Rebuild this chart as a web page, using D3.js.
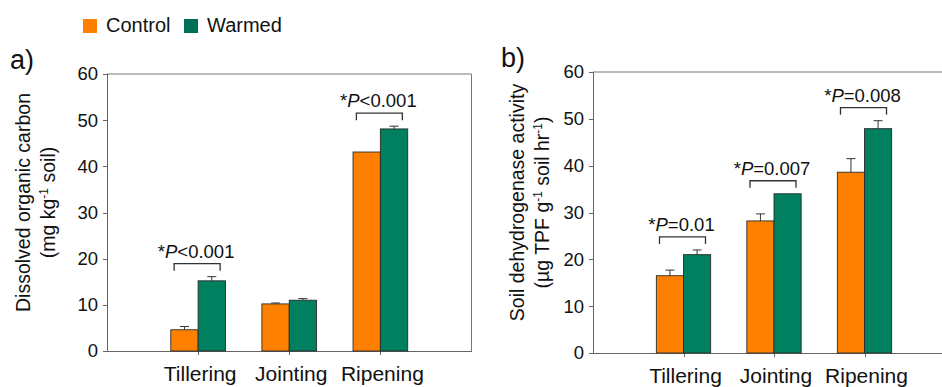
<!DOCTYPE html>
<html lang="en">
<head>
<meta charset="utf-8">
<script src="https://d3js.org/d3.v7.min.js"></script>
<style>
  body { margin: 0; background: #fff; }
  svg { display: block; font-family: "Liberation Sans", Arial, sans-serif; }
  .axis path, .axis line { stroke: #666; shape-rendering: crispEdges; }
  .axis text { font-size: 18.5px; fill: #111; }
</style>
</head>
<body>
<script>
// growth stages on the x axis
var stages = ["Tillering", "Jointing", "Ripening"];
var yTicks = [0, 10, 20, 30, 40, 50, 60];

// a) dissolved organic carbon (mg kg-1 soil)
var docControl = [4.6, 10.2, 43.1];
var docControlErr = [0.7, 0.2, 0.0];
var docWarmed = [15.2, 11.0, 48.1];
var docWarmedErr = [0.9, 0.35, 0.6];
var docSig = ["<0.001", null, "<0.001"];

// b) soil dehydrogenase activity (ug TPF g-1 soil hr-1)
var dhaControl = [16.5, 28.2, 38.6];
var dhaControlErr = [1.2, 1.5, 2.9];
var dhaWarmed = [21.0, 34.0, 47.9];
var dhaWarmedErr = [1.0, 0.0, 1.7];
var dhaSig = ["=0.01", "=0.007", "=0.008"];

var orange = "#ff8000", green = "#00805f";

var svg = d3.select("body").append("svg")
    .attr("width", 942)
    .attr("height", 387);

// legend
var legend = [["Control", orange, 83], ["Warmed", "#006f58", 184]];
legend.forEach(function(l) {
  svg.append("rect").attr("x", l[2]).attr("y", 19).attr("width", 14).attr("height", 14).attr("fill", l[1]);
  svg.append("text").attr("x", l[2] + 23).attr("y", 32).attr("font-size", 20).attr("fill", "#111").text(l[0]);
});

function drawPanel(opt) {
  var g = svg.append("g").attr("transform", "translate(" + opt.left + "," + opt.top + ")");
  var w = opt.width, h = opt.height;

  var x = d3.scaleLinear().domain([0, 4]).range([0, w]);
  var y = d3.scaleLinear().domain([0, 60]).range([h, 0]);
  var bw = x(0.3) - x(0);

  // frame
  g.append("line").attr("x1", 0).attr("x2", w).attr("y1", 0).attr("y2", 0).attr("stroke", "#777");
  g.append("line").attr("x1", w).attr("x2", w).attr("y1", 0).attr("y2", h).attr("stroke", "#777");

  g.append("g").attr("class", "axis")
      .call(d3.axisLeft(y).tickValues(yTicks).tickSize(4).tickPadding(5).tickFormat(d3.format("d")));

  g.append("g").attr("class", "axis")
      .attr("transform", "translate(0," + h + ")")
      .call(d3.axisBottom(x).tickValues([1, 2, 3]).tickSize(4).tickSizeOuter(0).tickFormat(function(d) { return ""; }));

  stages.forEach(function(s, i) {
    var cx = x(i + 1);
    var series = [[opt.control[i], opt.controlErr[i], orange, cx - bw], [opt.warmed[i], opt.warmedErr[i], green, cx]];
    series.forEach(function(d) {
      g.append("rect")
          .attr("x", d[3]).attr("y", y(d[0]))
          .attr("width", bw).attr("height", h - y(d[0]))
          .attr("fill", d[2]).attr("stroke", "#2a2a2a").attr("stroke-width", 0.9);
      if (d[1] > 0) {
        var ex = d[3] + bw / 2;
        g.append("line").attr("x1", ex).attr("x2", ex).attr("y1", y(d[0])).attr("y2", y(d[0] + d[1])).attr("stroke", "#333");
        g.append("line").attr("x1", ex - 4.5).attr("x2", ex + 4.5).attr("y1", y(d[0] + d[1])).attr("y2", y(d[0] + d[1])).attr("stroke", "#333");
      }
    });

    g.append("text")
        .attr("x", cx + 2).attr("y", h + 30)
        .attr("text-anchor", "middle").attr("font-size", 21).attr("fill", "#111")
        .text(s);

    if (opt.sig[i]) {
      var top = Math.min(y(opt.control[i] + opt.controlErr[i]), y(opt.warmed[i] + opt.warmedErr[i])) - 13;
      g.append("path")
          .attr("d", "M" + (cx - 24) + "," + (top + 7) + "V" + top + "H" + (cx + 22) + "V" + (top + 7))
          .attr("fill", "none").attr("stroke", "#333").attr("stroke-width", 1.3);
      var t = g.append("text")
          .attr("x", cx - 2).attr("y", top - 6)
          .attr("text-anchor", "middle").attr("font-size", 18.5).attr("fill", "#111");
      t.append("tspan").text("*");
      t.append("tspan").attr("font-style", "italic").text("P");
      t.append("tspan").text(opt.sig[i]);
    }
  });

  // panel letter
  svg.append("text").attr("x", opt.labelX).attr("y", opt.top - 5).attr("font-size", 27).attr("fill", "#111").text(opt.letter);

  // y axis title (two lines)
  var cy = opt.top + h / 2 - 10;
  var t1 = svg.append("text")
      .attr("transform", "translate(" + opt.titleX + "," + cy + ") rotate(-90)")
      .attr("text-anchor", "middle").attr("font-size", 19.5).attr("fill", "#111");
  t1.text(opt.title1);
  var t2 = svg.append("text")
      .attr("transform", "translate(" + (opt.titleX + 25) + "," + cy + ") rotate(-90)")
      .attr("text-anchor", "middle").attr("font-size", 19.5).attr("fill", "#111");
  opt.title2.forEach(function(p) {
    var sp = t2.append("tspan").text(p[0]);
    if (p[1]) sp.attr("baseline-shift", "super").attr("font-size", 12);
  });
}

drawPanel({
  left: 107, top: 74, width: 364.5, height: 277,
  control: docControl, controlErr: docControlErr,
  warmed: docWarmed, warmedErr: docWarmedErr, sig: docSig,
  letter: "a)", labelX: 10, titleX: 30,
  title1: "Dissolved organic carbon",
  title2: [["(mg kg", 0], ["-1", 1], [" soil)", 0]]
});

drawPanel({
  left: 593, top: 72, width: 362, height: 281,
  control: dhaControl, controlErr: dhaControlErr,
  warmed: dhaWarmed, warmedErr: dhaWarmedErr, sig: dhaSig,
  letter: "b)", labelX: 501, titleX: 524,
  title1: "Soil dehydrogenase activity",
  title2: [["(\u00b5g TPF g", 0], ["-1", 1], [" soil hr", 0], ["-1", 1], [")", 0]]
});
</script>
</body>
</html>
